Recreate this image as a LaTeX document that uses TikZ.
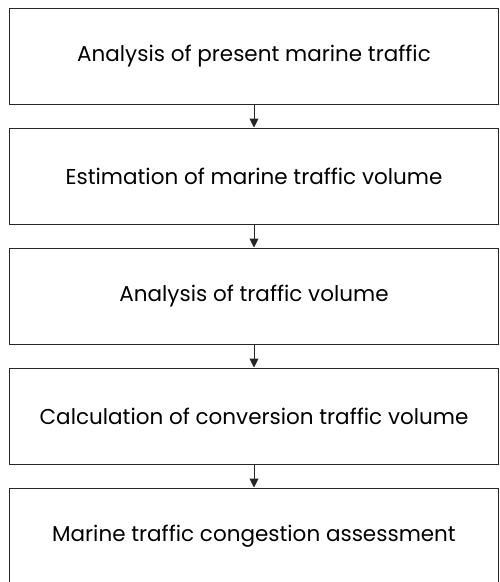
\documentclass[tikz,border=0pt]{standalone}
\usepackage{fontspec}
\setmainfont{Poppins}
\usetikzlibrary{arrows.meta}
\begin{document}
\begin{tikzpicture}[x=1pt,y=-1pt,
  stepbox/.style={draw=black!85, line width=1pt, minimum width=489pt, minimum height=96pt,
    inner sep=0pt, font=\fontsize{21.5}{24}\selectfont, text=black},
  flow/.style={draw=black!85, line width=1pt, -{Triangle[length=9pt,width=9pt]}}]
\useasboundingbox (0,0) rectangle (499,582);
\node[stepbox] (b1) at (254,56) {Analysis of present marine traffic};
\node[stepbox] (b2) at (254,176) {Estimation of marine traffic volume};
\node[stepbox] (b3) at (254,296) {Analysis of traffic volume};
\node[stepbox] (b4) at (254,416) {Calculation of conversion traffic volume};
\node[stepbox] (b5) at (254,536) {Marine traffic congestion assessment};
\draw[flow] (b1.south) -- (b2.north);
\draw[flow] (b2.south) -- (b3.north);
\draw[flow] (b3.south) -- (b4.north);
\draw[flow] (b4.south) -- (b5.north);
\end{tikzpicture}
\end{document}
